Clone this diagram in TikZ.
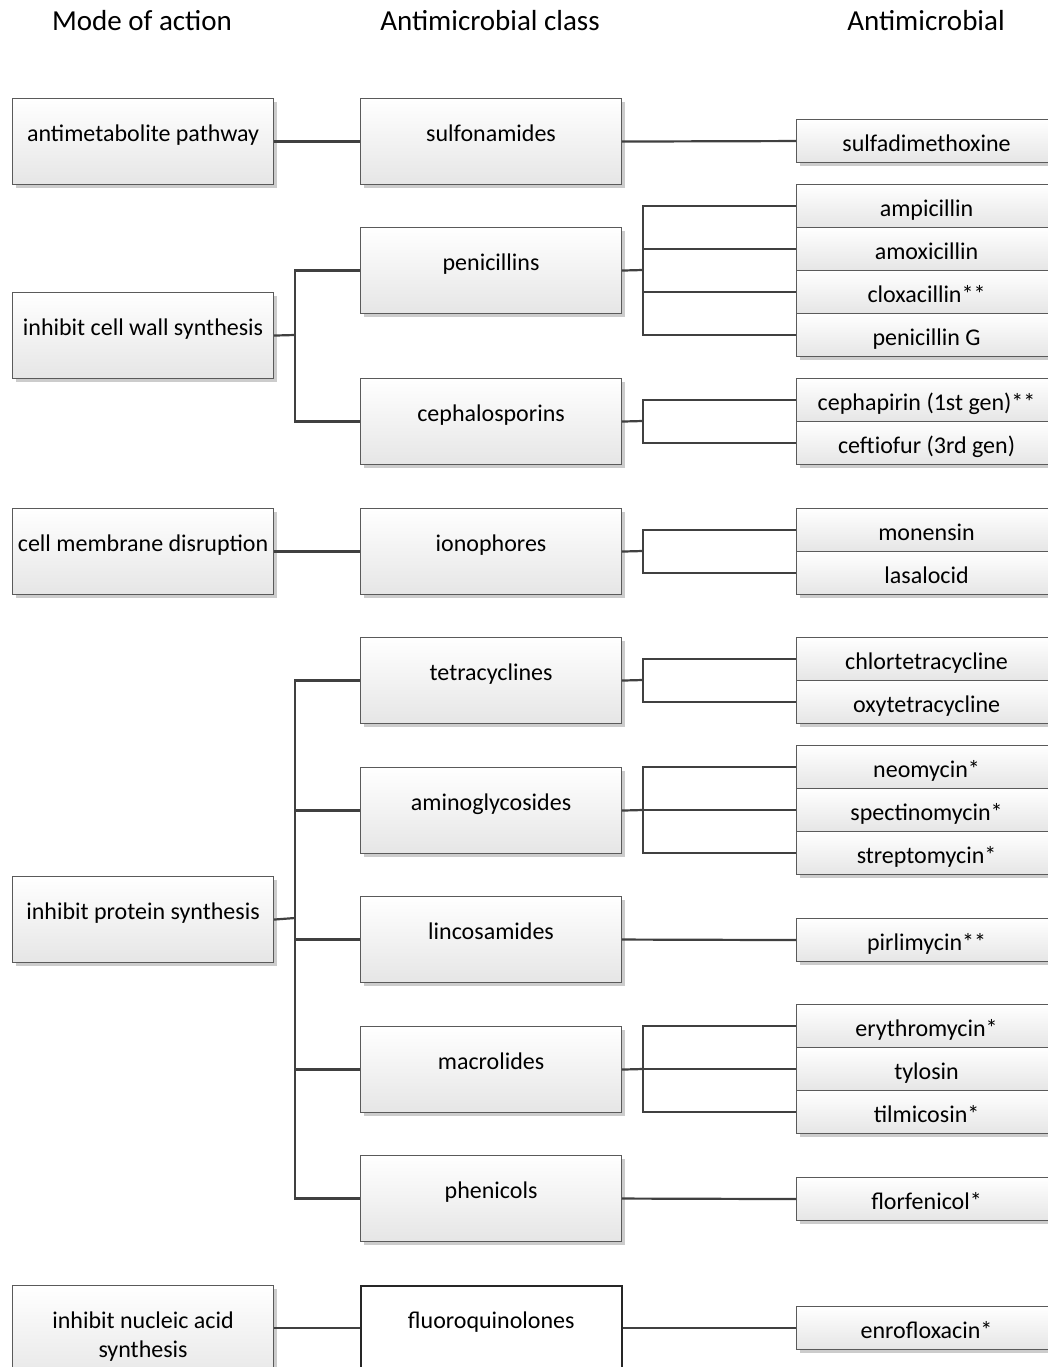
\documentclass[tikz,border=0pt]{standalone}
\usepackage{fontspec}
\setmainfont{Carlito}
\usetikzlibrary{shadows}
\definecolor{linec}{HTML}{404040}
\definecolor{boxc}{HTML}{5A5A5A}
\tikzset{
  gbox/.style={draw=boxc, line width=1.1pt, rectangle, anchor=north west, inner sep=0pt,
    top color=white, bottom color=black!10, shading angle=0,
    drop shadow={shadow xshift=3pt, shadow yshift=-3pt, fill=black!20, opacity=1}},
  bigbox/.style={gbox, minimum width=261pt, minimum height=86pt},
  smallbox/.style={gbox, minimum width=260pt, minimum height=43pt},
  plainbox/.style={draw=black!85, line width=1.6pt, fill=white, rectangle, anchor=north west, inner sep=0pt, minimum width=261pt, minimum height=100pt},
  lbl/.style={font=\fontsize{24}{29}\selectfont, text height=17pt, text depth=5pt, align=center, inner sep=0pt},
  up/.style={label={[lbl, yshift=6pt]center:#1}},
  dn/.style={label={[lbl, yshift=-4pt]center:#1}},
  hdr/.style={font=\fontsize{29}{34}\selectfont, inner sep=0pt},
  conn/.style={draw=linec, line width=2.2pt},
}
\begin{document}
\begin{tikzpicture}[x=1pt, y=-1pt]
\useasboundingbox (0,0) rectangle (1047,1367);
% headers
\node[hdr] (h1) at (142,21) {Mode of action};
\node[hdr] (h2) at (490,21) {Antimicrobial class};
\node[hdr] (h3) at (926,21) {Antimicrobial};
% mode of action
\node[bigbox, up={antimetabolite pathway}] (m1) at (12,98) {};
\node[bigbox, up={inhibit cell wall synthesis}] (m2) at (12,292) {};
\node[bigbox, up={cell membrane disruption}] (m3) at (12,508) {};
\node[bigbox, up={inhibit protein synthesis}] (m4) at (12,876) {};
\node[bigbox, minimum height=100pt, label={[lbl, yshift=-16pt]center:inhibit nucleic acid\\synthesis}] (m5) at (12,1285) {};
% classes
\node[bigbox, up={sulfonamides}] (c1) at (360,98) {};
\node[bigbox, up={penicillins}] (c2) at (360,227) {};
\node[bigbox, up={cephalosporins}] (c3) at (360,378) {};
\node[bigbox, up={ionophores}] (c4) at (360,508) {};
\node[bigbox, up={tetracyclines}] (c5) at (360,637) {};
\node[bigbox, up={aminoglycosides}] (c6) at (360,767) {};
\node[bigbox, up={lincosamides}] (c7) at (360,896) {};
\node[bigbox, up={macrolides}] (c8) at (360,1026) {};
\node[bigbox, up={phenicols}] (c9) at (360,1155) {};
\node[plainbox, label={[lbl, yshift=13pt]center:fluoroquinolones}] (c10) at (360,1285) {};
% antimicrobials
\node[smallbox, dn={sulfadimethoxine}] (a1) at (796,119) {};
\node[smallbox, dn={ampicillin}] (a2) at (796,184) {};
\node[smallbox, dn={amoxicillin}] (a3) at (796,227) {};
\node[smallbox, dn={cloxacillin**}] (a4) at (796,270) {};
\node[smallbox, dn={penicillin G}] (a5) at (796,313) {};
\node[smallbox, dn={cephapirin (1st gen)**}] (a6) at (796,378) {};
\node[smallbox, dn={ceftiofur (3rd gen)}] (a7) at (796,421) {};
\node[smallbox, dn={monensin}] (a8) at (796,508) {};
\node[smallbox, dn={lasalocid}] (a9) at (796,551) {};
\node[smallbox, dn={chlortetracycline}] (a10) at (796,637) {};
\node[smallbox, dn={oxytetracycline}] (a11) at (796,680) {};
\node[smallbox, dn={neomycin*}] (a12) at (796,745) {};
\node[smallbox, dn={spectinomycin*}] (a13) at (796,788) {};
\node[smallbox, dn={streptomycin*}] (a14) at (796,831) {};
\node[smallbox, dn={pirlimycin**}] (a15) at (796,918) {};
\node[smallbox, dn={erythromycin*}] (a16) at (796,1004) {};
\node[smallbox, dn={tylosin}] (a17) at (796,1047) {};
\node[smallbox, dn={tilmicosin*}] (a18) at (796,1090) {};
\node[smallbox, dn={florfenicol*}] (a19) at (796,1177) {};
\node[smallbox, dn={enrofloxacin*}] (a20) at (796,1306) {};
% bus coordinates
\coordinate (bw) at (295,335);
\coordinate (bp) at (295,918);
\coordinate (kp) at (643,270);
\coordinate (kc) at (643,421);
\coordinate (ki) at (643,551);
\coordinate (kt) at (643,680);
\coordinate (ka) at (643,810);
\coordinate (km) at (643,1069);
% connectors col1 -> col2
\draw[conn] (m1.east) -- (c1.west);
\draw[conn] (m2.east) -- (bw);
\draw[conn] (bw) |- (c2.west);
\draw[conn] (bw) |- (c3.west);
\draw[conn] (m3.east) -- (c4.west);
\draw[conn] (m4.east) -- (bp);
\draw[conn] (bp) |- (c5.west);
\draw[conn] (bp) |- (c6.west);
\draw[conn] (bp) |- (c7.west);
\draw[conn] (bp) |- (c8.west);
\draw[conn] (bp) |- (c9.west);
\draw[conn] (m5.east |- a20.west) -- (c10.west |- a20.west);
% connectors col2 -> col3
\draw[conn] (c1.east) -- (a1.west);
\draw[conn] (c2.east) -- (kp);
\foreach \t in {a2,a3,a4,a5} \draw[conn] (kp) |- (\t.west);
\draw[conn] (c3.east) -- (kc);
\foreach \t in {a6,a7} \draw[conn] (kc) |- (\t.west);
\draw[conn] (c4.east) -- (ki);
\foreach \t in {a8,a9} \draw[conn] (ki) |- (\t.west);
\draw[conn] (c5.east) -- (kt);
\foreach \t in {a10,a11} \draw[conn] (kt) |- (\t.west);
\draw[conn] (c6.east) -- (ka);
\foreach \t in {a12,a13,a14} \draw[conn] (ka) |- (\t.west);
\draw[conn] (c7.east) -- (a15.west);
\draw[conn] (c8.east) -- (km);
\foreach \t in {a16,a17,a18} \draw[conn] (km) |- (\t.west);
\draw[conn] (c9.east) -- (a19.west);
\draw[conn] (c10.east |- a20.west) -- (a20.west);
\end{tikzpicture}
\end{document}
